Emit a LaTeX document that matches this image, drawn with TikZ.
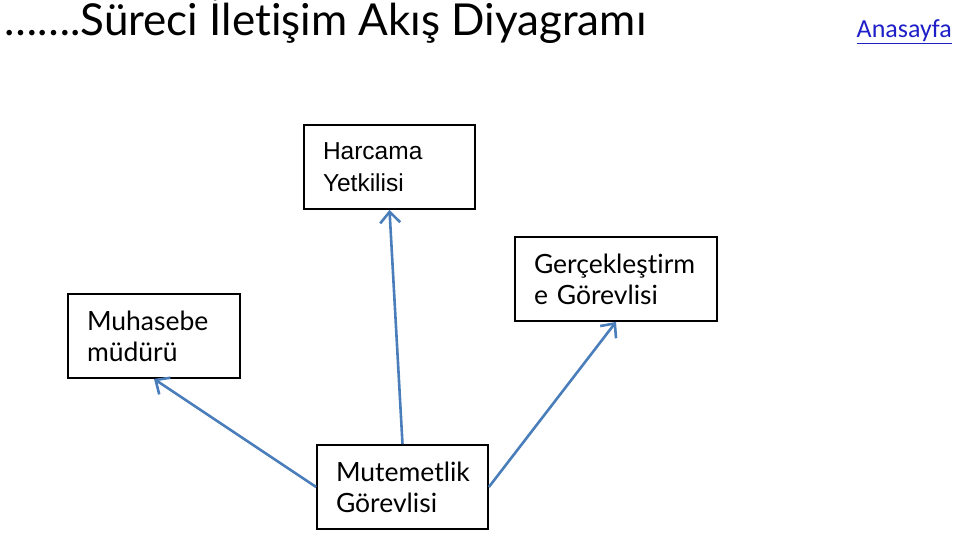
\documentclass[tikz,border=0pt]{standalone}
\usepackage{fontspec}
\setmainfont{Lato}[Ligatures=NoCommon]
\newfontfamily\harcfont{Liberation Sans}
\newfontfamily\linkfont{Carlito}[Ligatures=NoCommon]
\usetikzlibrary{arrows.meta}
\definecolor{linkblue}{HTML}{1F1FC8}
\definecolor{flowblue}{HTML}{4A7EBB}

\begin{document}
\begin{tikzpicture}[x=1pt, y=-1pt,
    box/.style={draw, line width=1.8pt, minimum height=84pt, inner xsep=19pt,
      align=left, font=\fontsize{26.5}{31}\selectfont},
    flow/.style={draw=flowblue, line width=2.6pt, ->},
    >={Straight Barb[length=11pt,width=20pt]}]
  \useasboundingbox (0,0) rectangle (960,534);

  \node[anchor=base west, inner sep=0pt, font=\fontsize{44}{48}\selectfont] (title) at (4,36)
    {…….Süreci İletişim Akış Diyagramı};
  \node[anchor=base east, inner sep=0pt, text=linkblue, font=\linkfont\fontsize{26}{30}\selectfont] (home) at (952,38)
    {\underline{Anasayfa}};

  \node[box, text width=133pt, font=\harcfont\fontsize{24.5}{32}\selectfont] (H) at (389.5,167) {Harcama\\Yetkilisi};
  \node[box, text width=134pt] (M) at (154,336) {Muhasebe\\müdürü};
  \node[box, text width=164pt] (G) at (616,279) {Gerçekleştirm\\e Görevlisi};
  \node[box, text width=133pt] (T) at (402.5,487) {Mutemetlik\\Görevlisi};

  \draw[flow] (T.north) -- (H.south);
  \draw[flow] (T.west) -- (M.south);
  \draw[flow] (T.east) -- (G.south);
\end{tikzpicture}
\end{document}
